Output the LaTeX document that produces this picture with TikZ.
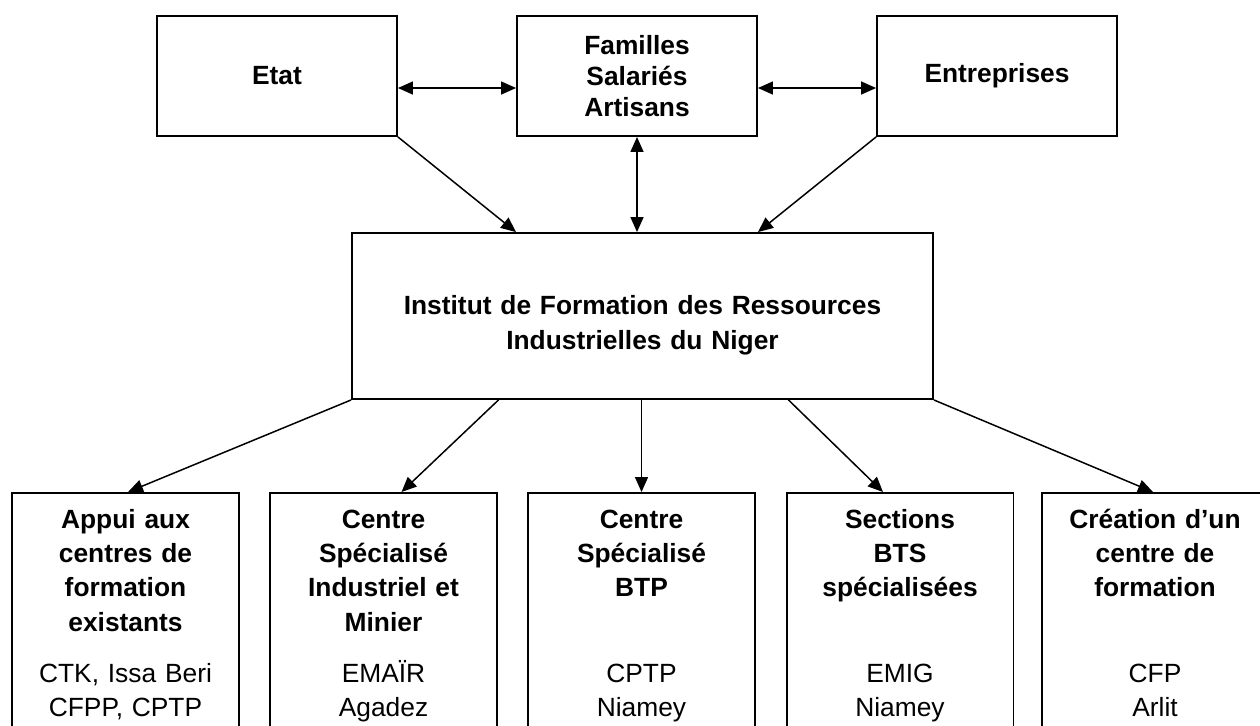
\documentclass[tikz,border=0pt]{standalone}
\usepackage{fontspec}
\setmainfont{Liberation Sans}
\usetikzlibrary{arrows.meta,calc}

\begin{document}
\begin{tikzpicture}[x=0.02cm,y=-0.02cm,
    font=\fontsize{15}{19.5}\selectfont,
    >={Triangle[length=0.3cm,width=0.26cm]}]

      \useasboundingbox (0,0) rectangle (1260,725);

      \begin{scope}[every node/.style={draw,line width=1.1pt,align=center,
          font=\fontsize{15}{17.5}\selectfont\bfseries,
          minimum width=4.8cm,minimum height=2.4cm}]
        \node (etat) at (277,76)  {Etat};
        \node (fam)  at (637,76)  {Familles\\Salariés\\Artisans};
        \node (ent)  at (997,76)  {Entreprises};
        \node[minimum width=11.62cm,minimum height=3.32cm,text width=11cm,
          font=\fontsize{15}{20}\selectfont\bfseries]
          (inst) at (642.5,316) {\rule{0pt}{21pt}Institut de Formation des Ressources\\Industrielles du Niger};
      \end{scope}

      \begin{scope}[every node/.style={draw,line width=1.1pt,align=center,anchor=north,
          text width=4.3cm,minimum width=4.54cm,inner ysep=6.5pt}]
        \node (b1) at (125.5,492) {{\bfseries\strut Appui aux\\centres de\\formation\\existants}\\[0.34cm]CTK, Issa Beri\\CFPP, CPTP\rule[-1cm]{0pt}{0pt}};
        \node (b2) at (383.5,492) {{\bfseries\strut Centre\\Spécialisé\\Industriel et\\Minier}\\[0.34cm]EMAÏR\\Agadez\rule[-1cm]{0pt}{0pt}};
        \node (b3) at (641.5,492) {{\bfseries\strut Centre\\Spécialisé\\BTP\\\strut}\\[0.34cm]CPTP\\Niamey\rule[-1cm]{0pt}{0pt}};
        \node (b4) at (900,492)   {{\bfseries\strut Sections\\BTS\\spécialisées\\\strut}\\[0.34cm]EMIG\\Niamey\rule[-1cm]{0pt}{0pt}};
        \node[minimum width=4.36cm] (b5) at (1155,492) {{\bfseries\strut Création d’un\\centre de\\formation\\\strut}\\[0.34cm]CFP\\Arlit\rule[-1cm]{0pt}{0pt}};
      \end{scope}

      \begin{scope}[every edge/.style={draw,line width=0.85pt}]
        \path ($(etat.east)+(0,12)$) edge[<->] ($(fam.west)+(0,12)$);
        \path ($(fam.east)+(0,12)$)  edge[<->] ($(ent.west)+(0,12)$);
        \path (fam.south) edge[<->] (fam.south |- inst.north);
        \path (etat.south east) edge[->] ($(fam.south |- inst.north)+(-121,0)$);
        \path (ent.south west)  edge[->] ($(fam.south |- inst.north)+(121,0)$);
        \path (inst.south west) edge[->] ($(b1.north)+(2.5,0)$);
        \path ($(inst.south)+(-144,0)$) edge[->] ($(b2.north)+(18,0)$);
        \path (b3.north |- inst.south) edge[->] (b3.north);
        \path ($(inst.south)+(146,0)$)  edge[->] ($(b4.north)+(-17,0)$);
        \path (inst.south east) edge[->] ($(b5.north)+(-2,0)$);
      \end{scope}

    \end{tikzpicture}
\end{document}
